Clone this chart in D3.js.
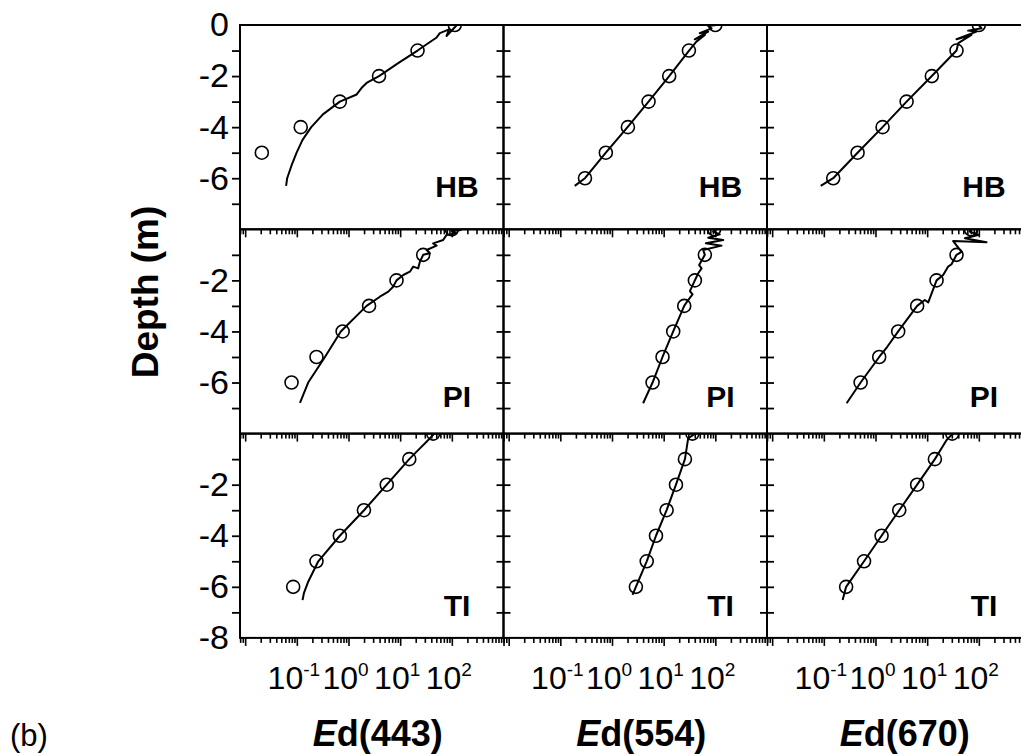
<!DOCTYPE html>
<html>
<head>
<meta charset="utf-8">
<script src="https://cdn.jsdelivr.net/npm/d3@7"></script>
<style>
  html, body { margin: 0; padding: 0; background: #fff; }
  svg { display: block; font-family: "Liberation Sans", Arial, Helvetica, sans-serif; }
</style>
</head>
<body>
<svg id="chart" width="1021" height="755"></svg>
<script>
// ---------------- DATA ----------------
const stations = ["HB", "PI", "TI"];
const wavelengths = ["443", "554", "670"];
const depthLevels = [0, -1, -2, -3, -4, -5, -6];
const xTickExponents = [-1, 0, 1, 2];
const yLabelTicks = [[0, -2, -4, -6], [-2, -4, -6], [-2, -4, -6, -8]];

// measured Ed (circles) at depthLevels, null = no sample
const obs_HB_443 = [114, 21.7, 3.9, 0.68, 0.119, 0.021, null];
const obs_HB_554 = [100, 30.8, 12.8, 5.1, 2.03, 0.76, 0.30];
const obs_HB_670 = [100, 37, 12.3, 4.0, 1.37, 0.45, 0.152];
const obs_PI_443 = [100, 27.9, 8.5, 2.5, 0.77, 0.24, 0.079];
const obs_PI_554 = [95, 62.7, 40.2, 25, 15.3, 9.5, 6.1];
const obs_PI_670 = [70, 37, 15.2, 6.4, 2.75, 1.18, 0.515];
const obs_TI_443 = [43.5, 15, 5.5, 1.99, 0.68, 0.24, 0.085];
const obs_TI_554 = [36, 25.8, 17.3, 11.4, 7.1, 4.7, 2.9];
const obs_TI_670 = [30.5, 14.1, 6.4, 2.88, 1.31, 0.60, 0.27];

// profiler Ed (lines): [depth, Ed]
const prof_HB_443 = [[-6.3,0.062],[-6.0,0.065],[-5.5,0.079],[-5.0,0.099],[-4.5,0.129],[-4.0,0.19],[-3.5,0.32],[-3.0,0.68],[-2.72,1.44],[-2.46,1.8],[-2.27,2.24],[-2.0,3.9],[-1.5,9.0],[-1.0,21.7],[-0.5,50],[-0.32,58.6],[-0.17,88.7],[-0.43,79],[-0.09,114],[0,125]];
const prof_HB_554 = [[-6.3,0.19],[-6.0,0.30],[-5.0,0.76],[-4.0,2.0],[-3.0,5.1],[-2.0,12.8],[-1.0,31],[-0.65,43],[-0.39,62.7],[-0.56,40],[-0.26,72.6],[-0.32,50],[-0.13,84.5],[-0.04,72.6],[0,105]];
const prof_HB_670 = [[-6.3,0.087],[-6.0,0.152],[-5.0,0.45],[-4.0,1.37],[-3.0,4.0],[-2.0,12.3],[-1.0,37],[-0.71,40],[-0.39,72],[-0.56,37],[-0.26,90],[-0.22,62],[-0.13,113],[0,100]];
const prof_PI_443 = [[-6.8,0.115],[-6.0,0.166],[-5.0,0.35],[-4.0,0.71],[-3.0,2.24],[-2.64,4.05],[-2.44,5.9],[-2.25,7.3],[-2.0,8.5],[-1.79,11.5],[-1.66,15.4],[-1.46,17.9],[-1.53,22.3],[-1.27,24.1],[-1.0,27.9],[-0.94,37.6],[-0.81,32.4],[-0.64,50.7],[-0.55,43.5],[-0.42,68],[-0.22,79],[-0.16,123],[-0.07,100],[-0.03,154]];
const prof_PI_554 = [[-6.81,4.0],[-6.0,6.1],[-5.0,9.5],[-4.0,15.3],[-3.0,25],[-2.77,29.8],[-2.55,36.2],[-2.42,32.2],[-2.0,40.2],[-1.72,46.6],[-1.53,54.2],[-1.40,48.6],[-1.0,62.7],[-0.81,58.2],[-0.64,132],[-0.55,65.6],[-0.42,142],[-0.33,72.8],[-0.20,122],[-0.09,91],[0,100]];
const prof_PI_670 = [[-6.81,0.276],[-6.0,0.515],[-5.0,1.18],[-4.6,1.69],[-4.0,2.75],[-3.0,6.4],[-2.77,9.0],[-2.86,10.5],[-2.51,12.2],[-2.0,15.2],[-1.79,20.4],[-1.46,25.5],[-1.37,29.6],[-1.0,37],[-0.88,46.3],[-0.46,31.9],[-0.51,141],[-0.35,53.7],[-0.22,97],[-0.09,67],[0,70]];
const prof_TI_443 = [[-6.52,0.129],[-6.25,0.137],[-5.8,0.166],[-5.0,0.26],[-4.0,0.68],[-3.0,2.0],[-2.0,5.5],[-1.0,15],[-0.58,24.1],[-0.32,32.4],[-0.05,43.5],[0,46]];
const prof_TI_554 = [[-6.32,2.5],[-6.0,2.9],[-5.0,4.7],[-4.0,7.1],[-3.0,11.4],[-2.0,17.3],[-1.0,25.8],[-0.19,29.8],[-0.05,37.2],[0,40]];
const prof_TI_670 = [[-6.52,0.231],[-6.0,0.27],[-5.0,0.60],[-4.0,1.31],[-3.0,2.88],[-2.0,6.4],[-1.0,14.1],[-0.25,23.8],[-0.05,29.6],[0,31]];

const observed = {
  HB: [obs_HB_443, obs_HB_554, obs_HB_670],
  PI: [obs_PI_443, obs_PI_554, obs_PI_670],
  TI: [obs_TI_443, obs_TI_554, obs_TI_670]
};
const profiles = {
  HB: [prof_HB_443, prof_HB_554, prof_HB_670],
  PI: [prof_PI_443, prof_PI_554, prof_PI_670],
  TI: [prof_TI_443, prof_TI_554, prof_TI_670]
};

// ---------------- LAYOUT ----------------
const plotLeft = 240, colW = 263.5, plotTop = 25, rowH = 204.3;
const svg = d3.select("#chart");
const FONT = '"Liberation Sans", Arial, Helvetica, sans-serif';

const defs = svg.append("defs");

function xScaleFor(c) {
  const left = plotLeft + c * colW;
  return d3.scaleLog().domain([Math.pow(10, -2.1), 1000]).range([left, left + colW]);
}
function yScaleFor(r) {
  const top = plotTop + r * rowH;
  return d3.scaleLinear().domain([0, -8]).range([top, top + rowH]);
}

// tick values for log axes
const majorX = d3.range(-2, 4).map(e => Math.pow(10, e));
const minorX = [];
d3.range(-3, 3).forEach(e => { for (let m = 2; m <= 9; m++) minorX.push(m * Math.pow(10, e)); });
const minorXIn = minorX.filter(v => v >= Math.pow(10, -2.1) && v <= 1000);
const yTicksAll = [-1, -2, -3, -4, -5, -6, -7];

const line = (x, y) => d3.line().x(d => x(d[1])).y(d => y(d[0])).curve(d3.curveLinear);

stations.forEach((st, r) => {
  const y = yScaleFor(r);
  wavelengths.forEach((wl, c) => {
    const x = xScaleFor(c);
    const [x0, x1] = x.range();
    const [y0, y1] = y.range();
    const g = svg.append("g");
    const clipId = `clip-${r}-${c}`;
    defs.append("clipPath").attr("id", clipId)
      .append("rect").attr("x", x0).attr("y", y0).attr("width", x1 - x0).attr("height", y1 - y0);

    // bottom ticks (outward)
    const axMaj = g.append("g").attr("transform", `translate(0,${y1})`)
      .call(d3.axisBottom(x).tickValues(majorX).tickSize(8).tickSizeOuter(0).tickFormat(""));
    const axMin = g.append("g").attr("transform", `translate(0,${y1})`)
      .call(d3.axisBottom(x).tickValues(minorXIn).tickSize(5).tickSizeOuter(0).tickFormat(""));
    [axMaj, axMin].forEach(a => {
      a.select(".domain").remove();
      a.selectAll("line").attr("stroke", "#000").attr("stroke-width", 1.6);
    });

    // left ticks
    if (c === 0) {
      const ax = g.append("g").attr("transform", `translate(${x0},0)`)
        .call(d3.axisLeft(y).tickValues(yTicksAll).tickSize(8).tickSizeOuter(0).tickFormat(""));
      ax.select(".domain").remove();
      ax.selectAll("line").attr("stroke", "#000").attr("stroke-width", 1.8);
      const lab = g.append("g").attr("transform", `translate(${x0},0)`)
        .call(d3.axisLeft(y).tickValues(yLabelTicks[r]).tickSize(0).tickPadding(11).tickFormat(d => String(d)));
      lab.select(".domain").remove();
      lab.selectAll("text").attr("font-family", FONT).attr("font-size", 34).attr("fill", "#000");
    } else {
      const ax = g.append("g").attr("transform", `translate(${x0},0)`)
        .call(d3.axisRight(y).tickValues(yTicksAll).tickSize(7).tickSizeOuter(0).tickFormat(""));
      ax.select(".domain").remove();
      ax.selectAll("line").attr("stroke", "#000").attr("stroke-width", 1.8);
    }
    // right ticks (inward)
    const axR = g.append("g").attr("transform", `translate(${x1},0)`)
      .call(d3.axisLeft(y).tickValues(yTicksAll).tickSize(7).tickSizeOuter(0).tickFormat(""));
    axR.select(".domain").remove();
    axR.selectAll("line").attr("stroke", "#000").attr("stroke-width", 1.8);

    // profile line
    const pg = g.append("g").attr("clip-path", `url(#${clipId})`);
    pg.append("path").datum(profiles[st][c])
      .attr("d", line(x, y))
      .attr("fill", "none").attr("stroke", "#000").attr("stroke-width", 2)
      .attr("stroke-linejoin", "round");

    // observed circles
    const pts = depthLevels.map((d, i) => [d, observed[st][c][i]]).filter(p => p[1] != null);
    pg.selectAll("circle").data(pts).enter().append("circle")
      .attr("cx", d => x(d[1])).attr("cy", d => y(d[0])).attr("r", 6.5)
      .attr("fill", "none").attr("stroke", "#000").attr("stroke-width", 1.6);

    // frame
    g.append("rect").attr("x", x0).attr("y", y0).attr("width", x1 - x0).attr("height", y1 - y0)
      .attr("fill", "none").attr("stroke", "#000").attr("stroke-width", 2);

    // station label
    g.append("text").attr("x", x0 + 217).attr("y", y1 - [32, 27, 22][r])
      .attr("text-anchor", "middle").attr("font-family", FONT)
      .attr("font-weight", "bold").attr("font-size", 30).text(st);

    // x tick labels under last row
    if (r === stations.length - 1) {
      xTickExponents.forEach(e => {
        const t = g.append("text").attr("x", x(Math.pow(10, e)) - 3).attr("y", y1 + 51)
          .attr("text-anchor", "middle").attr("font-family", FONT).attr("font-size", 32);
        t.append("tspan").text("10");
        t.append("tspan").attr("font-size", 19).attr("dy", -13).text(String(e));
      });
      const title = g.append("text").attr("x", (x0 + x1) / 2 + 6).attr("y", 746)
        .attr("text-anchor", "middle").attr("font-family", FONT)
        .attr("font-weight", "bold").attr("font-size", 36);
      title.append("tspan").attr("font-style", "italic").text("E");
      title.append("tspan").text(`d(${wl})`);
    }
  });
});

// y-axis title
svg.append("text").attr("transform", "translate(158,292) rotate(-90)")
  .attr("text-anchor", "middle").attr("font-family", FONT)
  .attr("font-weight", "bold").attr("font-size", 37).text("Depth (m)");

// panel tag
svg.append("text").attr("x", 10).attr("y", 746).attr("font-family", FONT)
  .attr("font-size", 31).text("(b)");
</script>
</body>
</html>
